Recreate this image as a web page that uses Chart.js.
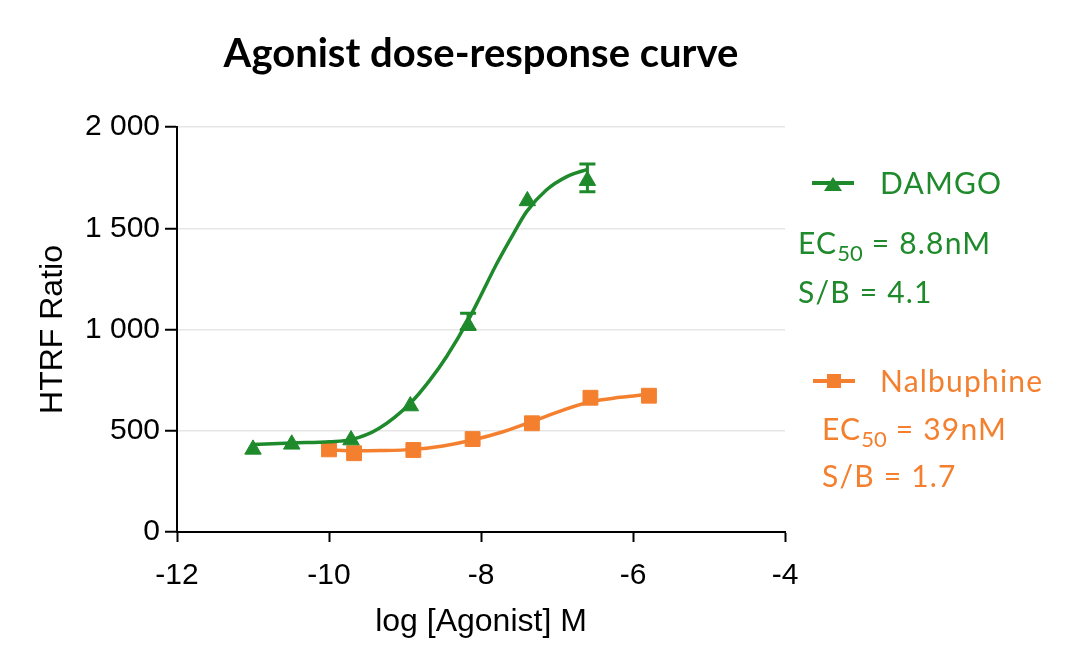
<!DOCTYPE html>
<html>
<head>
<meta charset="utf-8">
<script src="https://cdn.jsdelivr.net/npm/chart.js@4.4.1/dist/chart.umd.min.js"></script>
<style>
  html, body { margin: 0; padding: 0; background: #fff; }
  #wrap { position: relative; width: 1080px; height: 671px; overflow: hidden; }
  #c { position: absolute; left: 0; top: 0; }
  .t { position: absolute; white-space: nowrap; font-family: Lato, "Noto Sans", sans-serif; }
  #title { left: 0; width: 962px; top: 32px; text-align: center; font-weight: 700; font-size: 40px; line-height: 40px; color: #000; }
  .lg { font-size: 30px; line-height: 30px; letter-spacing: 1.2px; }
  .lg sub { font-size: 22px; vertical-align: -7px; line-height: 0; letter-spacing: 0; }
  .green { color: #1e8a2b; }
  .orange { color: #f4802f; }
  .ln { position: absolute; width: 42px; height: 4px; }
</style>
</head>
<body>
<div id="wrap">
  <canvas id="c" width="1080" height="671"></canvas>
  <div class="t" id="title">Agonist dose-response curve</div>

  <!-- legend + fit results -->
  <div class="ln" style="left:812px;top:181px;background:#1e8a2b"></div>
  <div style="position:absolute;left:824px;top:177px;width:0;height:0;border-left:9px solid transparent;border-right:9px solid transparent;border-bottom:14px solid #1e8a2b"></div>
  <div class="t lg green" style="left:880px;top:167px">DAMGO</div>
  <div class="t lg green" style="left:798px;top:227px">EC<sub>50</sub> = 8.8nM</div>
  <div class="t lg green" style="left:798px;top:276px">S/B = 4.1</div>

  <div class="ln" style="left:813px;top:379px;background:#f4802f"></div>
  <div style="position:absolute;left:827px;top:374px;width:14px;height:14px;background:#f4802f"></div>
  <div class="t lg orange" style="left:880px;top:365px">Nalbuphine</div>
  <div class="t lg orange" style="left:822px;top:413px">EC<sub>50</sub> = 39nM</div>
  <div class="t lg orange" style="left:822px;top:460px">S/B = 1.7</div>
</div>
<script>
  // --- data ---
  var xTicks = [-12, -10, -8, -6, -4];
  var yTicks = [0, 500, 1000, 1500, 2000];

  // DAMGO measured points (log M, HTRF ratio) + error bars
  var damgoX = [-11.0, -10.49, -9.71, -8.93, -8.17, -7.39, -6.60];
  var damgoY = [408, 433, 454, 622, 1020, 1635, 1735];
  var damgoErrUp = [0, 0, 0, 0, 60, 0, 82];
  var damgoErrDown = [0, 0, 0, 0, 20, 0, 55];

  // DAMGO fitted curve, traced
  var damgoFitX = [-11.0, -10.49, -9.99, -9.71, -9.35, -8.93, -8.67, -8.45, -8.17, -8.01, -7.79, -7.57, -7.40, -7.14, -6.87, -6.60];
  var damgoFitY = [432, 440, 446, 456, 510, 636, 751, 868, 1045, 1162, 1327, 1475, 1582, 1689, 1755, 1791];

  // Nalbuphine measured points
  var nalbX = [-10.0, -9.67, -8.89, -8.11, -7.33, -6.56, -5.79];
  var nalbY = [408, 389, 405, 459, 537, 663, 673];

  // Nalbuphine fitted curve, traced
  var nalbFitX = [-10.0, -9.67, -9.33, -8.89, -8.50, -8.11, -7.71, -7.33, -6.92, -6.56, -6.17, -5.79];
  var nalbFitY = [405, 401, 402, 408, 425, 454, 495, 545, 602, 643, 665, 681];

  var GREEN = '#1e8a2b', ORANGE = '#f4802f';
  var TICK_FONT = { family: '"Liberation Sans", Arial, sans-serif', size: 30 };
  var TITLE_FONT = { family: '"Liberation Sans", Arial, sans-serif', size: 32 };

  function pts(xs, ys) { return xs.map(function (x, i) { return { x: x, y: ys[i] }; }); }
  function spaced(v) { return String(v).replace(/\B(?=(\d{3})+(?!\d))/g, ' '); }

  // error bars (SEM) drawn through the scales
  var errorBars = {
    id: 'errorBars',
    afterDatasetsDraw: function (chart) {
      var ctx = chart.ctx, xs = chart.scales.x, ys = chart.scales.y;
      ctx.save();
      ctx.strokeStyle = GREEN;
      ctx.lineWidth = 3;
      damgoX.forEach(function (lx, i) {
        if (!damgoErrUp[i] && !damgoErrDown[i]) return;
        var px = xs.getPixelForValue(lx);
        var top = ys.getPixelForValue(damgoY[i] + damgoErrUp[i]);
        var bot = ys.getPixelForValue(damgoY[i] - damgoErrDown[i]);
        ctx.beginPath();
        ctx.moveTo(px, top); ctx.lineTo(px, bot);
        ctx.moveTo(px - 8, top); ctx.lineTo(px + 8, top);
        ctx.moveTo(px - 8, bot); ctx.lineTo(px + 8, bot);
        ctx.stroke();
      });
      ctx.restore();
    }
  };

  new Chart(document.getElementById('c'), {
    type: 'scatter',
    data: {
      datasets: [
        { label: 'Nalbuphine fit', data: pts(nalbFitX, nalbFitY), showLine: true, borderColor: ORANGE,
          borderWidth: 3.5, pointRadius: 0, cubicInterpolationMode: 'monotone', order: 4 },
        { label: 'Nalbuphine', data: pts(nalbX, nalbY), showLine: false, pointStyle: 'rect',
          pointRadius: 10.5, backgroundColor: ORANGE, borderColor: ORANGE, borderWidth: 1, order: 3 },
        { label: 'DAMGO fit', data: pts(damgoFitX, damgoFitY), showLine: true, borderColor: GREEN,
          borderWidth: 3.5, pointRadius: 0, cubicInterpolationMode: 'monotone', order: 2 },
        { label: 'DAMGO', data: pts(damgoX, damgoY), showLine: false, pointStyle: 'triangle',
          pointRadius: 9.5, backgroundColor: GREEN, borderColor: GREEN, borderWidth: 1, order: 1 }
      ]
    },
    options: {
      responsive: false,
      animation: false,
      layout: { padding: { left: 0, right: 295, top: 127, bottom: 0 } },
      plugins: { legend: { display: false }, tooltip: { enabled: false } },
      scales: {
        x: {
          type: 'linear', min: -12, max: -4,
          afterBuildTicks: function (s) { s.ticks = xTicks.map(function (v) { return { value: v }; }); },
          afterFit: function (s) { s.height = 139; },
          grid: { drawOnChartArea: false, tickColor: '#000', tickLength: 10, tickWidth: 2 },
          border: { color: '#000', width: 2 },
          ticks: { color: '#000', font: TICK_FONT, padding: 16, maxRotation: 0 },
          title: { display: true, text: 'log [Agonist] M', color: '#000', font: TITLE_FONT, padding: { top: 0, bottom: 30 } }
        },
        y: {
          type: 'linear', min: 0, max: 2000,
          afterBuildTicks: function (s) { s.ticks = yTicks.map(function (v) { return { value: v }; }); },
          afterFit: function (s) { s.width = 177; },
          grid: { color: '#e6e6e6', lineWidth: 1.5, tickColor: '#000', tickLength: 12, tickWidth: 2 },
          border: { color: '#000', width: 2 },
          ticks: { color: '#000', font: TICK_FONT, padding: 5, callback: function (v) { return spaced(v); } },
          title: { display: true, text: 'HTRF Ratio', color: '#000', font: TITLE_FONT, padding: { top: 34, bottom: 0 } }
        }
      }
    },
    plugins: [errorBars]
  });
</script>
</body>
</html>
